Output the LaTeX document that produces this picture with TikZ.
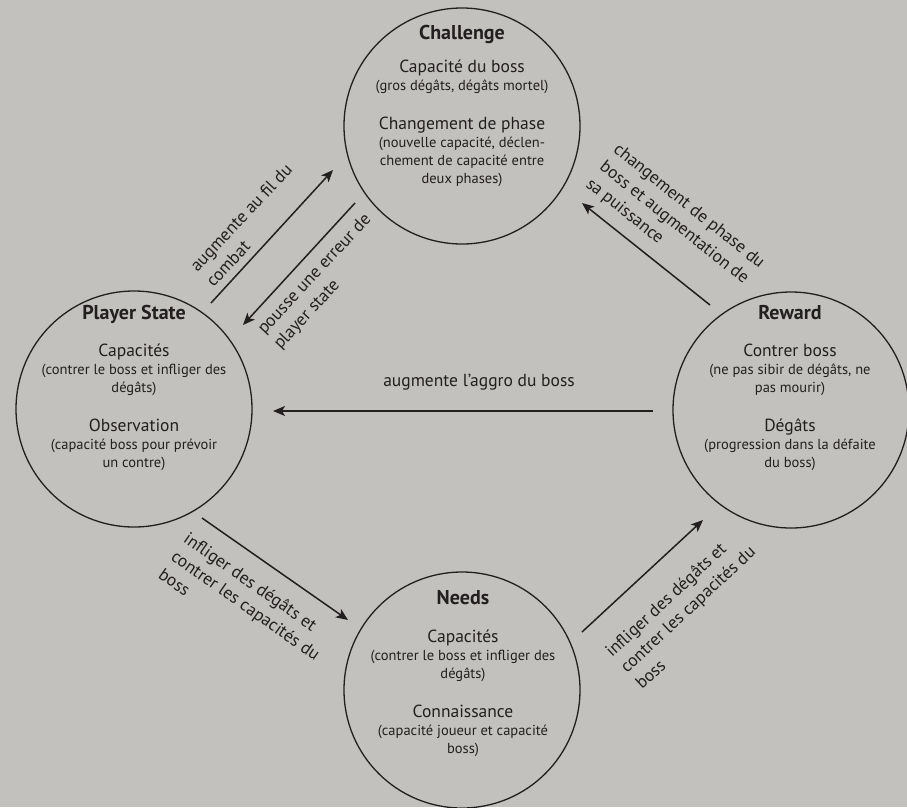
\documentclass[tikz,border=0pt]{standalone}
\usepackage{fontspec}
\setmainfont{PT Sans}
\usetikzlibrary{arrows.meta}
\definecolor{bg}{RGB}{194,193,189}
\definecolor{ink}{RGB}{35,31,32}
\newcommand\circtitle[1]{{\bfseries\fontsize{20}{20}\selectfont #1}}
\newcommand\circhead[1]{{\fontsize{17.5}{18}\selectfont #1}}
\begin{document}
\begin{tikzpicture}[x=1pt,y=-1pt,
  state/.style={circle, draw=ink, line width=1.3pt, minimum size=236pt, inner sep=0pt, outer sep=0pt},
  body/.style={align=center, text=ink, inner sep=0pt, anchor=north, font=\fontsize{14.5}{18}\selectfont},
  flow/.style={draw=ink, line width=1.5pt, -{Stealth[length=12pt,width=10pt,inset=3pt]}},
  edgetext/.style={align=left, text=ink, inner sep=0pt, font=\fontsize{17.5}{22}\selectfont},
]
% canvas
\fill[bg] (0,0) rectangle (907,807);
\useasboundingbox (0,0) rectangle (907,807);

% the four states
\node[state] (challenge) at (462,126) {};
\node[state] (player) at (134,409) {};
\node[state] (reward) at (791,410) {};
\node[state] (needs) at (462,690) {};

% contents of the states
\node[body] (challenge-txt) at (462,25) {\circtitle{Challenge}\\[15pt]
  \circhead{Capacité du boss}\\
  (gros dégâts, dégâts mortel)\\[21pt]
  \circhead{Changement de phase}\\
  (nouvelle capacité, déclen-\\
  chement de capacité entre\\
  deux phases)};
\node[body] (player-txt) at (134,305) {\circtitle{Player State}\\[19pt]
  \circhead{Capacités}\\
  (contrer le boss et infliger des\\
  dégâts)\\[21pt]
  \circhead{Observation}\\
  (capacité boss pour prévoir\\
  un contre)};
\node[body] (reward-txt) at (790,305) {\circtitle{Reward}\\[19pt]
  \circhead{Contrer boss}\\
  (ne pas sibir de dégâts, ne\\
  pas mourir)\\[21pt]
  \circhead{Dégâts}\\
  (progression dans la défaite\\
  du boss)};
\node[body] (needs-txt) at (463,590) {\circtitle{Needs}\\[20pt]
  \circhead{Capacités}\\
  (contrer le boss et infliger des\\
  dégâts)\\[21pt]
  \circhead{Connaissance}\\
  (capacité joueur et capacité\\
  boss)};

% connector ends
\coordinate (up-s) at (211,303);   \coordinate (up-e) at (333,170);
\coordinate (err-s) at (355,203);  \coordinate (err-e) at (243,325);
\coordinate (phase-s) at (710,305); \coordinate (phase-e) at (582,203);
\coordinate (aggro-s) at (653,411); \coordinate (aggro-e) at (273,411);
\coordinate (hit-s) at (202,518);  \coordinate (hit-e) at (348,620);
\coordinate (gain-s) at (582,632); \coordinate (gain-e) at (703,520);

\draw[flow] (up-s) -- (up-e);
\draw[flow] (err-s) -- (err-e);
\draw[flow] (phase-s) -- (phase-e);
\draw[flow] (aggro-s) -- (aggro-e);
\draw[flow] (hit-s) -- (hit-e);
\draw[flow] (gain-s) -- (gain-e);

% connector labels
\node[edgetext, rotate=47] (up-lbl) at (249,225) {augmente au fil du\\combat};
\node[edgetext, rotate=47] (err-lbl) at (323,282) {pousse une erreur de\\player state};
\node[edgetext, rotate=-38.6] (phase-lbl) at (675,224) {changement de phase du\\boss et augmentation de\\sa puissance};
\node[edgetext] (aggro-lbl) at (479,382) {augmente l’aggro du boss};
\node[edgetext, rotate=-35] (hit-lbl) at (246,605) {infliger des dégâts et\\contrer les capacités du\\boss};
\node[edgetext, rotate=43] (gain-lbl) at (687.5,609) {infliger des dégâts et\\contrer les capacités du\\boss};
\end{tikzpicture}
\end{document}
